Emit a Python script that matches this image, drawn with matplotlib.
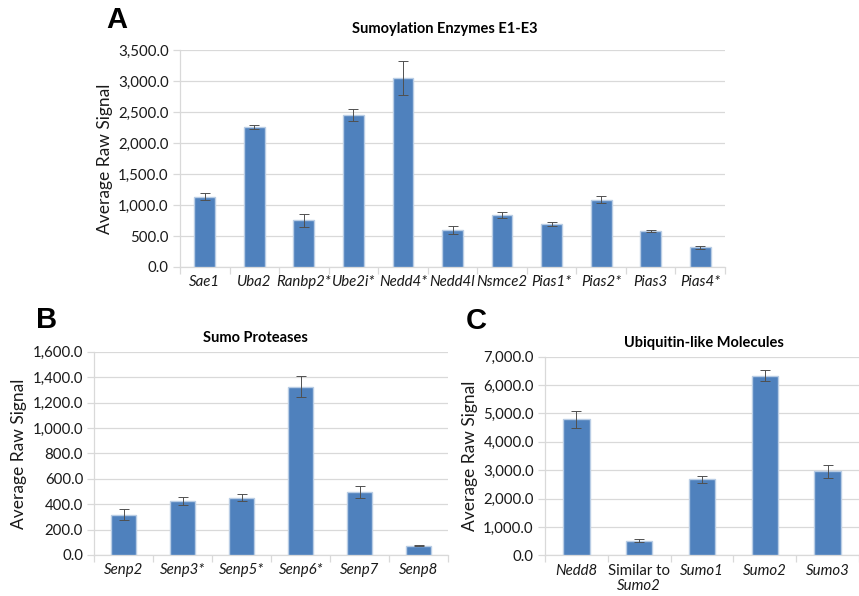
import matplotlib
matplotlib.use("Agg")
import matplotlib.pyplot as plt
import matplotlib.ticker as mticker
import numpy as np

plt.rcParams['font.family'] = ['Lato', 'DejaVu Sans']

# Panel A
a_cats = ["Sae1", "Uba2", "Ranbp2*", "Ube2i*", "Nedd4*", "Nedd4l", "Nsmce2", "Pias1*", "Pias2*", "Pias3", "Pias4*"]
a_vals = [1135, 2260, 755, 2450, 3050, 600, 835, 688, 1085, 580, 315]
a_errs = [55, 35, 105, 95, 280, 68, 45, 33, 55, 20, 22]

# Panel B
b_cats = ["Senp2", "Senp3*", "Senp5*", "Senp6*", "Senp7", "Senp8"]
b_vals = [318, 422, 452, 1325, 495, 73]
b_errs = [42, 32, 27, 82, 45, 4]

# Panel C
c_cats = ["Nedd8", "Similar to", "Sumo1", "Sumo2", "Sumo3"]
c_vals = [4790, 520, 2680, 6330, 2960]
c_errs = [300, 55, 125, 190, 220]

BAR = "#4F81BD"
EDGE = "#B9CDE5"
GRID = "#D9D9D9"

W, H = 859, 596
fig = plt.figure(figsize=(W/100, H/100), dpi=100)

def make_ax(l, r, t, b):
    return fig.add_axes([l/W, 1 - b/H, (r-l)/W, (b-t)/H])

def style(ax, cats, vals, errs, ymax, step, title, tpad, tx):
    n = len(cats)
    x = np.arange(n)
    ax.bar(x, vals, width=0.42, color=BAR, edgecolor=EDGE, linewidth=1.0, zorder=3)
    ax.errorbar(x, vals, yerr=errs, fmt='none', ecolor='#505050', elinewidth=0.7,
                capsize=3.5, capthick=0.7, zorder=4)
    ax.set_xlim(-0.5, n - 0.5)
    ax.set_ylim(0, ymax)
    ax.yaxis.set_major_locator(mticker.MultipleLocator(step))
    ax.yaxis.set_major_formatter(mticker.FuncFormatter(lambda v, p: f"{v:,.1f}"))
    ax.grid(axis='y', color=GRID, linewidth=0.9, zorder=0)
    ax.set_axisbelow(True)
    for s in ['top', 'right']:
        ax.spines[s].set_visible(False)
    for s in ['left', 'bottom']:
        ax.spines[s].set_color(GRID)
        ax.spines[s].set_linewidth(0.9)
    ax.set_xticks(x)
    ax.set_xticklabels(cats, fontsize=10.8, style='italic', color='#1a1a1a')
    ax.set_xticks(np.arange(n + 1) - 0.5, minor=True)
    ax.tick_params(axis='x', which='major', length=0, pad=6)
    ax.tick_params(axis='x', which='minor', length=5, color=GRID, width=0.9)
    ax.tick_params(axis='y', length=5, color=GRID, width=0.9, labelsize=10.8,
                   labelcolor='#1a1a1a', pad=3)
    ax.set_ylabel("Average Raw Signal", fontsize=12.5, color='#1a1a1a')
    t = ax.set_title(title, fontsize=10.5, fontweight='bold', pad=tpad)
    t.set_x(tx)
    return ax

axA = make_ax(180, 725, 50, 267)
style(axA, a_cats, a_vals, a_errs, 3500, 500, "Sumoylation Enzymes E1-E3", 12, 0.485)

axB = make_ax(94.3, 448.3, 351.7, 555)
style(axB, b_cats, b_vals, b_errs, 1600, 200, "Sumo Proteases", 7, 0.455)

axC = make_ax(545, 859, 356.7, 555.3)
style(axC, c_cats, c_vals, c_errs, 7000, 1000, "Ubiquitin-like Molecules", 7, 0.505)
labels = axC.get_xticklabels()
labels[1].set_style('normal')
axC.annotate("Sumo2", xy=(1, 0), xycoords=axC.get_xaxis_transform(),
             xytext=(0, -17), textcoords='offset points', ha='center', va='top',
             fontsize=10.8, style='italic', color='#1a1a1a')

fig.text(106/W, 1 - 20/H, "A", fontsize=21, fontweight='bold', family='Liberation Sans', va='center')
fig.text(36/W, 1 - 320/H, "B", fontsize=21, fontweight='bold', family='Liberation Sans', va='center')
fig.text(466/W, 1 - 321/H, "C", fontsize=21, fontweight='bold', family='Liberation Sans', va='center')

fig.savefig("out.png", dpi=100)
